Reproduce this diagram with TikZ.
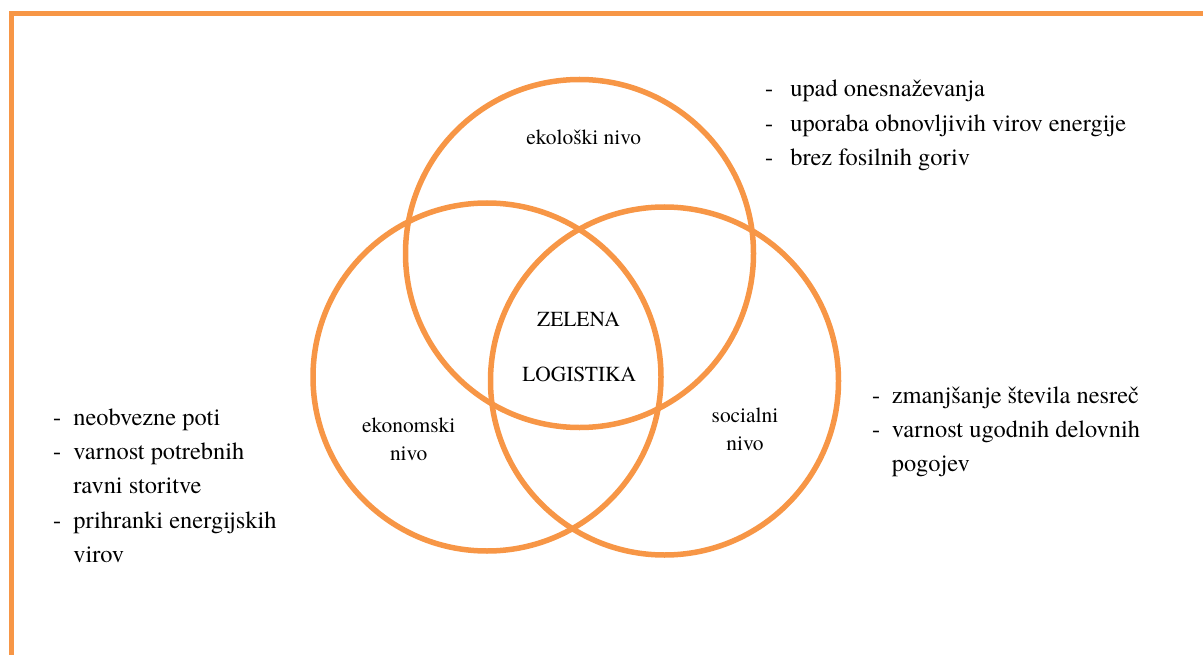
\documentclass[tikz,border=0pt]{standalone}
\usepackage{fontspec}
\setmainfont{texgyretermes}[Extension=.otf,UprightFont=*-regular]
\definecolor{vennorange}{HTML}{F79646}
\begin{document}
\begin{tikzpicture}[x=1bp,y=-1bp,
  ring/.style={circle,draw=vennorange,line width=5.5bp,minimum size=348bp,inner sep=0pt},
  frameline/.style={draw=vennorange,line width=4.5bp},
  levellabel/.style={font=\fontsize{21.5}{29}\selectfont,inner sep=0pt,anchor=base},
  listbox/.style={font=\fontsize{24.5}{34.5}\selectfont,inner sep=0pt,anchor=base west},
]
\useasboundingbox (0,0) rectangle (1203,655);
\clip (0,0) rectangle (1203,655);

% outer frame
\draw[frameline] (11.5,13.5) rectangle (1230,657);

% the three circles
\node[ring] (eko) at (579.5,253.5) {};
\node[ring] (ekon) at (487,377) {};
\node[ring] (soc) at (664.5,381) {};

% level labels
\node[levellabel] (ekolabel) at (583.7,145) {ekološki nivo};
\node[levellabel] (ekonlabel) at (408.7,432) {\begin{tabular}[t]{@{}c@{}}ekonomski\\nivo\end{tabular}};
\node[levellabel] (soclabel) at (745,422) {\begin{tabular}[t]{@{}c@{}}socialni\\nivo\end{tabular}};
\node[levellabel] (zelena) at (578.5,326) {ZELENA};
\node[levellabel] (logistika) at (579.2,381.5) {LOGISTIKA};

% lists of effects
\node[listbox] (ekolist) at (765,97) {\begin{tabular}[t]{@{}l@{\hspace{17bp}}l@{}}
-& upad onesnaževanja\\
-& uporaba obnovljivih virov energije\\
-& brez fosilnih goriv
\end{tabular}};
\node[listbox] (ekonlist) at (53,425) {\begin{tabular}[t]{@{}l@{\hspace{12bp}}l@{}}
-& neobvezne poti\\
-& varnost potrebnih\\
 & ravni storitve\\
-& prihranki energijskih\\
 & virov
\end{tabular}};
\node[listbox] (soclist) at (872,403) {\begin{tabular}[t]{@{}l@{\hspace{11.5bp}}l@{}}
-& zmanjšanje števila nesreč\\
-& varnost ugodnih delovnih\\
 & pogojev
\end{tabular}};
\end{tikzpicture}
\end{document}
